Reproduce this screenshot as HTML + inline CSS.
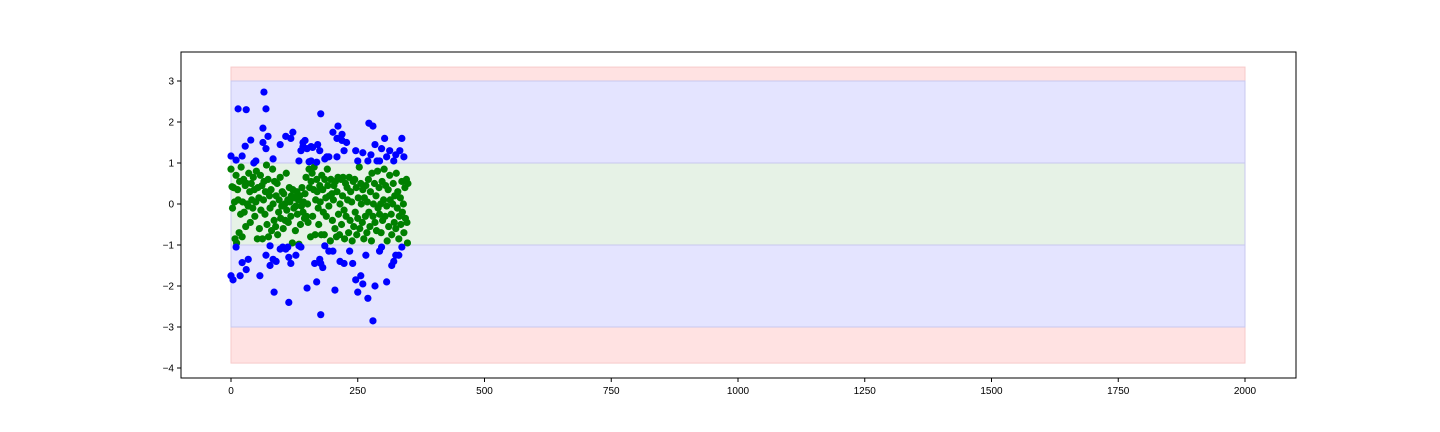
<!DOCTYPE html>
<html><head><meta charset="utf-8"><style>
html,body{margin:0;padding:0;background:#fff;}
svg{display:block;font-family:"Liberation Sans","DejaVu Sans",sans-serif;}
</style></head><body>
<svg id="chart" width="1440" height="432" xmlns="http://www.w3.org/2000/svg">
<g id="bands"></g>
<g id="points"></g>
<rect x="181" y="52" width="1115" height="326" fill="none" stroke="#000" stroke-width="1"/>
<g id="xaxis"></g>
<g id="yaxis"></g>
</svg>
<script>
const xTicks=[0,250,500,750,1000,1250,1500,1750,2000];
const yTicks=[-4,-3,-2,-1,0,1,2,3];
const bandLow=[-3.88,-3,-1];
const bandHigh=[3.34,3,1];
const bandColors=['#ffe2e2','#e4e4ff','#e6f2e6'];
const bandNames=['band-red','band-blue','band-green'];
const bandX=[0,2000];
const blueX=[0,0,4,10,10,14,18,22,22,28,30,30,34,39,45,49,57,63,63,65,69,69,69,73,77,77,83,83,85,89,97,97,102,108,108,112,114,114,118,118,122,128,134,134,138,138,142,142,146,150,150,154,158,158,161,165,169,169,171,175,175,177,177,177,181,185,185,189,193,193,201,201,205,209,209,211,215,219,219,223,223,228,234,240,246,246,250,250,256,260,260,266,270,270,272,276,280,280,284,284,288,293,293,297,297,303,307,307,313,317,321,321,325,325,331,333,337,337,341];
const blueY=[1.17,-1.75,-1.85,1.07,-1.05,2.32,-1.75,1.17,-1.43,1.41,2.30,-1.6,-1.35,1.56,1.0,1.05,-1.75,1.85,1.5,2.73,2.32,1.35,-1.25,1.65,-1.5,-1.02,1.1,-1.35,-2.15,-1.4,1.45,-1.1,-1.05,1.65,-1.1,-1.05,-1.3,-2.4,1.6,-1.45,1.75,-1.25,1.05,-1.02,1.3,-1.05,1.5,1.4,1.55,-2.05,1.35,1.03,1.05,1.4,1.38,-1.45,1.02,-1.9,1.45,1.3,-1.35,2.2,-2.7,-1.45,-1.55,1.1,-1.02,1.15,1.15,-1.15,1.75,-1.15,-2.1,1.15,1.6,1.9,-1.4,1.55,1.7,1.3,-1.45,1.5,-1.15,-1.45,-1.85,1.3,1.05,-2.15,-1.75,1.25,-1.95,-1.25,1.05,-2.3,1.97,1.2,1.9,-2.85,1.45,-2.0,1.05,1.05,-1.15,1.35,-1.05,1.6,1.15,-1.9,1.3,-1.5,1.05,-1.4,1.2,-1.25,-1.25,1.3,1.6,-1.05,1.15];
const greenX=[0,2,3,5,7,8,10,11,13,14,16,17,19,20,22,23,25,26,28,29,31,32,34,35,37,38,40,41,43,44,46,47,49,50,52,53,55,56,58,59,61,62,64,65,67,68,70,71,73,74,76,77,79,80,82,83,85,86,88,89,91,92,94,95,97,98,100,101,103,104,106,107,109,110,112,113,115,116,118,119,121,122,124,125,127,128,130,131,133,134,136,137,139,140,142,143,145,146,148,149,151,152,154,155,157,158,160,161,163,164,166,167,169,170,172,173,175,176,178,179,181,182,184,185,187,188,190,191,193,194,196,197,199,200,202,203,205,206,208,209,211,212,214,215,217,218,220,221,223,224,226,227,229,230,232,233,235,236,238,239,241,242,244,245,247,248,250,251,253,254,256,257,259,260,262,263,265,266,268,269,271,272,274,275,277,278,280,281,283,284,286,287,289,290,292,293,295,296,298,299,301,302,304,305,307,308,310,311,313,314,316,317,319,320,322,323,325,326,328,329,331,332,334,335,337,338,340,341,343,344,346,347,348,349];
const greenY=[.85,.42,-.1,.4,.05,-.85,.7,-.95,.35,.1,-.7,.55,-.25,.9,-.8,.05,.6,-.2,.45,-.55,.5,0,-.05,.75,.3,-.45,.5,.1,-.1,.65,.35,-.3,.05,.8,-.85,.4,.15,-.6,.7,-.15,.45,-.85,.1,.55,-.25,.3,.95,-.5,.6,-.8,.2,-.1,.35,-.65,.85,0,-.4,.55,-.55,.2,.5,-.75,-.2,.1,.65,-.35,-.05,.3,-.6,.25,0,-.4,.75,-.15,.1,-.45,.4,.05,-.3,.2,-.95,.35,-.1,.15,-.65,-.05,.3,-.25,.1,-.98,.2,-.5,-.05,.4,-.2,.05,-.35,.25,.65,-.3,0,-.45,.85,.4,-.8,.55,.75,-.3,.35,.9,-.75,.1,.6,.3,-.1,-.5,.45,.05,-.75,.7,.35,-.2,-.75,.6,.15,-.3,.85,.45,-.05,.2,-.9,.6,.25,-.4,.1,.45,-.6,.55,-.8,.3,.65,-.25,-.75,0,.6,-.5,.2,.65,-.15,-.85,.5,-.3,.4,.1,-.7,.65,-.4,.3,.05,-.9,.55,-.55,.6,-.2,.4,-.75,-.35,.15,.9,-.6,.5,0,-.45,.35,-.85,.15,-.3,.45,-.7,.05,.6,-.2,-.55,.3,-.9,.75,-.3,0,.5,-.45,.2,-.65,.8,-.1,.4,-.25,0,-.7,.55,-.4,.1,.85,-.3,.45,-.05,-.9,.35,-.55,.7,.1,-.25,-.75,0,.5,-.45,.2,-.6,.75,-.1,.3,-.85,-.3,.15,-.5,.55,-.2,0,-.7,.4,-.35,.6,-.45,-.95,.5];

const L=181,R=1296,T=52,B=378;
const xs=v=>231+(v-0)*(1245-231)/2000;
const ys=v=>204-v*41;
const NS='http://www.w3.org/2000/svg';
function mk(tag,attrs,parent){const e=document.createElementNS(NS,tag);for(const k in attrs)e.setAttribute(k,attrs[k]);parent.appendChild(e);return e;}
const bands=document.getElementById('bands');
for(let i=0;i<bandLow.length;i++){
  const r=mk('rect',{x:xs(bandX[0]),y:ys(bandHigh[i]),width:xs(bandX[1])-xs(bandX[0]),height:ys(bandLow[i])-ys(bandHigh[i]),fill:bandColors[i],stroke:i==0?'#f7caca':'#c8c8ef','stroke-width':1},bands);
  
  
}
const pts=document.getElementById('points');
function drawPts(X,Y,color,name){
  for(let i=0;i<X.length;i++){
    const c=mk('circle',{cx:xs(X[i]),cy:ys(Y[i]),r:3.6,fill:color},pts);
    
    
  }
}
drawPts(greenX,greenY,'#008000','green-point');
drawPts(blueX,blueY,'#0000ff','blue-point');
const xa=document.getElementById('xaxis');
xTicks.forEach(t=>{
  const x=xs(t);
  mk('line',{x1:x,x2:x,y1:B,y2:B+4,stroke:'#000'},xa);
  const tx=mk('text',{x:x,y:B+16,'text-anchor':'middle','font-size':10,fill:'#000'},xa);
  tx.textContent=t;
  
  
});
const ya=document.getElementById('yaxis');
yTicks.forEach(t=>{
  const y=ys(t);
  mk('line',{x1:L-4,x2:L,y1:y,y2:y,stroke:'#000'},ya);
  const tx=mk('text',{x:L-7,y:y+3.5,'text-anchor':'end','font-size':10,fill:'#000'},ya);
  tx.textContent=t<0?'\u2212'+Math.abs(t):t;
  
  
});
</script>
</body></html>
